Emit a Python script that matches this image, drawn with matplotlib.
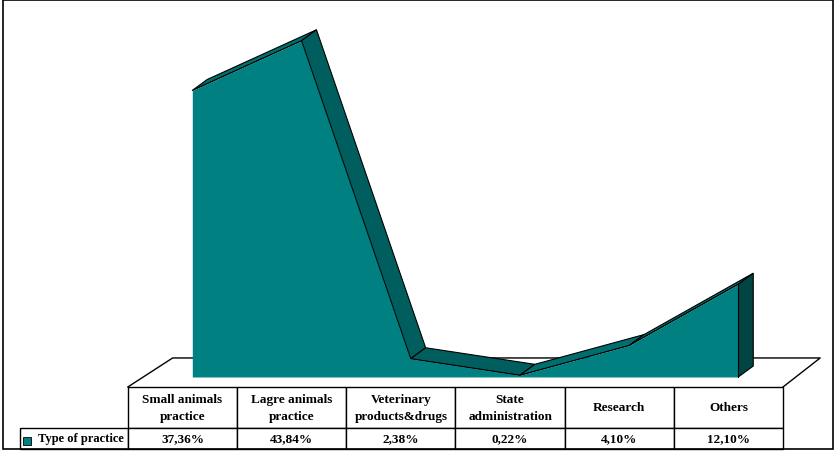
import matplotlib.pyplot as plt
import numpy as np
from matplotlib.patches import Polygon, Rectangle
from matplotlib.table import Table

categories = ["Small animals\npractice", "Lagre animals\npractice", "Veterinary\nproducts&drugs",
              "State\nadministration", "Research", "Others"]
values = [37.36, 43.84, 2.38, 0.22, 4.10, 12.10]
value_labels = ["37,36%", "43,84%", "2,38%", "0,22%", "4,10%", "12,10%"]
series_name = "Type of practice"

front = "#008080"
top_up = "#006e6e"
top_down = "#005e5e"
cap = "#004444"

plt.rcParams["font.family"] = ["Liberation Serif", "DejaVu Serif"]

fig = plt.figure(figsize=(8.37, 4.52), dpi=100)
ax = fig.add_axes([0, 0, 1, 1])
ax.set_xlim(-1.671, 5.994)
ax.set_ylim(-9.65, 49.28)
ax.axis("off")

x = np.arange(len(values)) + 0.09
v = np.array(values)
dx, dy = 0.137, 1.43

# floor outline (behind the area)
floor_front, floor_back = -1.30, 2.48
ax.plot([-0.5, -0.09, 5.84, 5.5], [floor_front, floor_back, floor_back, floor_front],
        color="black", lw=1, zorder=1)

# top strips
for i in range(len(v) - 1):
    pts = [(x[i], v[i]), (x[i + 1], v[i + 1]), (x[i + 1] + dx, v[i + 1] + dy), (x[i] + dx, v[i] + dy)]
    col = top_up if v[i + 1] >= v[i] else top_down
    ax.add_patch(Polygon(pts, closed=True, facecolor=col, edgecolor="black", lw=0.8, zorder=2))

# right end cap
last = len(v) - 1
ax.add_patch(Polygon([(x[last], 0), (x[last], v[last]), (x[last] + dx, v[last] + dy), (x[last] + dx, dy)],
                     closed=True, facecolor=cap, edgecolor="black", lw=0.8, zorder=2))

# front face
ax.fill_between(x, 0, v, color=front, lw=0, zorder=3)
ax.plot(x, v, color="black", lw=0.6, zorder=4)
ax.plot([x[last], x[last]], [0, v[last]], color="black", lw=0.8, zorder=4)

# data table (column 0 holds the series label)
W, H = 837, 452
tbl = Table(ax, bbox=[20 / W, 2 / H, (783 - 20) / W, (450 - 388) / H])
col_w = 109.2 / W
lab_w = 108 / W
head_h = 41 / H
row_h = 21 / H
blank = tbl.add_cell(0, 0, width=lab_w, height=head_h, text="")
blank.visible_edges = ""
label_cell = tbl.add_cell(1, 0, width=lab_w, height=row_h, text=series_name, loc="right")
label_cell.PAD = 0.035
for j, name in enumerate(categories):
    tbl.add_cell(0, j + 1, width=col_w, height=head_h, text=name, loc="center")
    tbl.add_cell(1, j + 1, width=col_w, height=row_h, text=value_labels[j], loc="center")
tbl.auto_set_font_size(False)
for cell in tbl.get_celld().values():
    cell.set_linewidth(1)
    cell.get_text().set_fontweight("bold")
    cell.get_text().set_fontsize(9.5)
    cell.get_text().set_linespacing(1.55)
label_cell.get_text().set_fontsize(9)
ax.add_table(tbl)

# legend key in the table
ax.add_patch(Rectangle((23 / W, (452 - 446) / H), 8 / W, 8 / H, transform=ax.transAxes,
                       facecolor=front, edgecolor="black", lw=0.6, zorder=5))

# outer border
fig.patches.append(Rectangle((3 / W, 2 / H), 830 / W, 449 / H, transform=fig.transFigure,
                             fill=False, edgecolor="black", lw=1.2))

fig.savefig("out.png", dpi=100)
